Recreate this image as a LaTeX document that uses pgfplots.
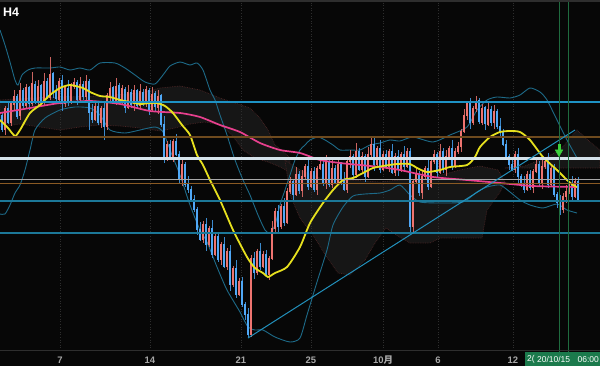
\documentclass[border=0pt]{standalone}
\usepackage{pgfplots}
\pgfplotsset{compat=1.18}
\usepackage{pgfplotstable}
\usepackage{fontspec}
\setmainfont{Liberation Sans}
\newfontfamily\cjk{Noto Sans CJK JP}
\definecolor{bgc}{HTML}{070707}
\definecolor{upb}{HTML}{EE7470}
\definecolor{upw}{HTML}{CC6460}
\definecolor{dnb}{HTML}{50A8F6}
\definecolor{dnw}{HTML}{3C8ACC}
\definecolor{band}{HTML}{1D6A88}
\definecolor{yma}{HTML}{E6E01E}
\definecolor{pma}{HTML}{E8408E}
\definecolor{hblue}{HTML}{1E92C4}
\definecolor{hbrown}{HTML}{6E4A1E}
\definecolor{hwhite}{HTML}{D4E2EA}
\definecolor{hgray}{HTML}{A8A8A8}
\definecolor{hbrown2}{HTML}{8A5A24}
\definecolor{hteal}{HTML}{1C7898}
\definecolor{cloud}{HTML}{161616}
\definecolor{cedge}{HTML}{4A2424}
\definecolor{gridc}{HTML}{2E2E2E}
\definecolor{lbl}{HTML}{A8A8A8}
\definecolor{boxg}{HTML}{1B7A4C}
\definecolor{vgreen}{HTML}{1F6B3F}
\definecolor{arrg}{HTML}{3CD23C}
\definecolor{trend}{HTML}{2290BC}

\pgfplotstableread{
x o c h l
2 116 129 112 132
5 129 108 106 135
8 108 122 101 124
11 122 104 101 126
14 104 96 90 111
17 96 116 94 119
20 116 91 83 120
23 91 106 88 108
26 106 88 84 109
29 88 104 86 110
32 104 84 72 106
35 84 100 81 104
38 100 86 80 107
41 86 102 84 105
44 102 81 73 106
47 81 97 78 99
50 97 74 57 100
53 74 92 72 98
56 92 99 85 101
59 99 81 78 103
62 81 104 75 111
65 104 88 86 107
68 88 102 80 106
71 102 86 83 104
74 86 82 78 89
77 82 99 80 105
80 99 84 77 101
83 84 96 81 100
86 96 81 75 103
89 81 112 79 130
92 112 119 104 123
95 119 106 103 121
98 106 122 102 125
101 122 108 106 128
104 108 126 101 140
107 126 96 93 130
110 96 88 82 103
113 88 101 86 104
116 101 86 78 105
119 86 102 83 104
122 102 89 85 105
125 89 107 87 113
128 107 92 85 109
131 92 104 89 108
134 104 91 85 111
137 91 106 89 109
140 106 92 84 110
143 92 104 89 106
146 104 90 86 107
149 90 109 88 115
152 109 94 87 111
155 94 107 91 111
158 107 96 90 114
161 96 124 94 127
164 124 159 116 163
167 159 144 141 161
170 144 156 140 159
173 156 141 139 162
176 141 154 134 156
179 154 179 151 183
182 179 164 158 186
185 164 184 162 187
188 184 189 176 193
191 189 199 186 201
194 199 209 195 212
197 209 229 207 235
200 229 239 222 241
203 239 224 221 243
206 224 244 218 251
209 244 228 226 247
212 228 254 220 258
215 254 236 233 256
218 236 259 232 262
221 259 244 242 265
224 244 266 237 268
227 266 251 248 270
230 251 284 245 291
233 284 268 266 287
236 268 294 260 298
239 294 281 278 296
242 281 304 277 307
245 304 314 302 320
248 314 334 308 338
251 334 258 255 337
254 258 272 252 279
257 272 251 249 275
260 251 266 243 270
263 266 254 251 268
266 254 274 250 277
269 274 258 256 280
272 258 228 221 260
275 228 211 208 232
278 211 226 205 233
281 226 206 204 229
284 206 222 198 226
287 222 191 188 224
290 191 181 177 194
293 181 194 179 200
296 194 174 167 196
299 174 190 171 194
302 190 176 170 197
305 176 166 164 179
308 166 186 158 190
311 186 171 168 188
314 171 189 167 192
317 189 168 166 195
320 168 164 157 170
323 164 182 161 186
326 182 161 155 189
329 161 184 159 187
332 184 168 160 188
335 168 182 165 184
338 182 164 160 185
341 164 179 162 185
344 179 189 172 191
347 189 161 158 193
350 161 156 150 168
353 156 174 154 177
356 174 151 143 178
359 151 169 148 171
362 169 156 152 172
365 156 176 154 182
368 176 154 147 178
371 154 144 136 158
374 144 164 138 171
377 164 148 146 167
380 148 169 140 173
383 169 154 151 171
386 154 166 150 169
389 166 151 149 172
392 151 172 144 174
395 172 156 153 176
398 156 169 150 176
401 169 154 152 172
404 154 166 146 170
407 166 151 148 168
410 151 226 148 232
413 226 181 179 232
416 181 174 167 183
419 174 192 171 196
422 192 176 170 199
425 176 168 166 179
428 168 186 160 190
431 186 161 158 188
434 161 154 150 164
437 154 172 152 178
440 172 151 144 174
443 151 169 148 173
446 169 156 150 176
449 156 148 146 159
452 148 166 140 170
455 166 151 148 168
458 151 146 142 154
461 146 131 129 152
464 131 116 109 133
467 116 104 101 120
470 104 122 98 129
473 122 108 106 125
476 108 101 96 112
479 101 122 98 124
482 122 108 104 125
485 108 124 106 130
488 124 109 102 126
491 109 122 106 126
494 122 111 105 129
497 111 126 109 129
500 126 132 118 136
503 132 144 129 146
506 144 156 140 159
509 156 164 154 170
512 164 169 157 171
515 169 154 151 173
518 154 176 148 183
521 176 184 174 187
524 184 189 176 193
527 189 174 171 191
530 174 187 170 190
533 187 171 169 193
536 171 164 157 173
539 164 182 161 186
542 182 166 160 189
545 166 161 159 169
548 161 184 153 188
551 184 168 165 186
554 168 194 164 197
557 194 202 192 208
560 202 209 195 215
563 209 196 193 213
566 196 191 185 203
569 191 184 182 194
572 184 196 176 200
575 196 181 178 198
578 181 199 177 202
}\candles

\begin{document}
\begin{tikzpicture}
\fill[bgc] (0,0) rectangle (600bp,366bp);
\begin{axis}[
  scale only axis, width=600bp, height=366bp,
  xmin=0, xmax=600, ymin=0, ymax=366, y dir=reverse,
  axis lines=none, clip=true,
]
% clouds
\addplot[fill=cloud, draw=cedge, densely dotted, line width=0.7bp] coordinates {(0,100) (30,98) (60,97) (100,96) (140,93) (160,88) (180,86) (200,90) (220,98) (235,103) (250,108) (260,118) (268,130) (275,145) (285,153) (290,158) (290,172) (278,166) (268,162) (255,158) (243,150) (232,135) (220,125) (205,122) (190,124) (175,128) (160,131) (140,128) (120,126) (100,125) (80,127) (60,130) (40,127) (20,124) (0,127)} --cycle;
\addplot[fill=cloud, draw=cedge, densely dotted, line width=0.7bp] coordinates {(285,160) (300,170) (320,178) (350,180) (380,182) (400,180) (430,178) (460,170) (480,166) (498,170) (505,182) (500,192) (487,210) (482,238) (440,238) (430,243) (410,243) (398,236) (386,228) (375,243) (365,260) (350,275) (338,273) (326,256) (313,235) (300,218) (290,195)} --cycle;
\addplot[fill=cloud, draw=cedge, densely dotted, line width=0.7bp] coordinates {(505,168) (525,166) (545,158) (560,150) (577,130) (590,142) (600,150) (600,168)} --cycle;
% grid
\pgfplotsinvokeforeach{60,150,241,311,383,438,513}{
  \draw[gridc, dotted, line width=0.6bp] (axis cs:#1,0) -- (axis cs:#1,350);
}
% bollinger bands
\addplot[band, line width=0.9bp, smooth, tension=0.4] coordinates {(0,30) (5,45) (10,62) (15,80) (18,85) (22,75) (28,70) (35,68) (50,68) (60,67) (70,70) (80,68) (90,70) (100,63) (115,63) (125,68) (135,75) (145,82) (155,84) (163,75) (170,66) (180,62) (190,65) (197,63) (203,70) (210,90) (215,100) (220,115) (227,135) (235,160) (243,180) (250,195) (258,215) (265,230) (270,233) (275,225) (280,205) (285,190) (290,175) (295,160) (300,150) (305,145) (310,140) (318,137) (325,140) (333,145) (340,150) (350,150) (360,150) (370,145) (380,143) (390,140) (400,141) (413,137) (433,142) (450,135) (467,127) (477,110) (487,100) (497,97) (510,98) (520,95) (530,88) (540,92) (547,100) (557,120) (567,140) (577,158)};
\addplot[band, line width=0.9bp, smooth, tension=0.4] coordinates {(0,214) (5,214) (10,205) (15,193) (20,185) (25,170) (30,150) (35,130) (45,118) (60,110) (75,107) (90,108) (100,115) (110,130) (125,133) (140,130) (155,127) (163,132) (172,155) (180,175) (190,205) (200,230) (207,242) (217,267) (227,290) (240,312) (248,327) (255,330) (263,330) (275,337) (290,342) (300,338) (307,315) (317,282) (327,250) (333,225) (343,207) (353,196) (365,194) (380,193) (390,190) (400,185) (410,195) (420,202) (440,203) (463,202) (477,192) (487,187) (500,185) (510,192) (520,200) (530,205) (543,208) (557,204) (567,210) (577,213)};
% candles: wicks
\addplot[draw=none, no markers, forget plot,
  restrict expr to domain={\thisrow{o}-\thisrow{c}}{0:1000},
  error bars/.cd, y dir=both, y explicit, error mark=none,
  error bar style={line width=1bp, draw=upw, solid}]
  table[x=x, y expr={(\thisrow{h}+\thisrow{l})/2}, y error expr={(\thisrow{l}-\thisrow{h})/2}] {\candles};
\addplot[draw=none, no markers, forget plot,
  restrict expr to domain={\thisrow{o}-\thisrow{c}}{-1000:-0.001},
  error bars/.cd, y dir=both, y explicit, error mark=none,
  error bar style={line width=1bp, draw=dnw, solid}]
  table[x=x, y expr={(\thisrow{h}+\thisrow{l})/2}, y error expr={(\thisrow{l}-\thisrow{h})/2}] {\candles};
% candles: bodies
\addplot[draw=none, no markers, forget plot,
  restrict expr to domain={\thisrow{o}-\thisrow{c}}{0:1000},
  error bars/.cd, y dir=both, y explicit, error mark=none,
  error bar style={line width=2.6bp, draw=upb, solid}]
  table[x=x, y expr={(\thisrow{o}+\thisrow{c})/2}, y error expr={abs(\thisrow{o}-\thisrow{c})/2+0.5}] {\candles};
\addplot[draw=none, no markers, forget plot,
  restrict expr to domain={\thisrow{o}-\thisrow{c}}{-1000:-0.001},
  error bars/.cd, y dir=both, y explicit, error mark=none,
  error bar style={line width=2.6bp, draw=dnb, solid}]
  table[x=x, y expr={(\thisrow{o}+\thisrow{c})/2}, y error expr={abs(\thisrow{o}-\thisrow{c})/2+0.5}] {\candles};
% moving averages
\addplot[pma, line width=1.7bp, smooth, tension=0.4] coordinates {(0,113) (30,108) (60,103) (90,101) (120,104) (150,111) (180,113) (200,117) (220,125) (240,132) (260,143) (280,150) (300,153) (320,160) (340,163) (360,165) (380,167) (400,170) (433,177) (467,180) (500,183) (533,186) (577,187)};
\addplot[yma, line width=1.8bp, smooth, tension=0.4] coordinates {(0,120) (8,128) (15,136) (20,130) (30,113) (40,105) (50,95) (60,88) (70,85) (83,88) (90,92) (100,96) (110,97) (120,100) (130,102) (140,104) (150,103) (157,103) (165,106) (173,113) (182,125) (190,135) (197,155) (203,165) (210,180) (220,200) (233,230) (247,257) (255,268) (263,273) (268,277) (275,273) (287,267) (300,247) (310,223) (323,203) (333,190) (343,180) (353,178) (363,173) (373,168) (383,166) (397,164) (410,164) (417,168) (427,172) (440,170) (450,167) (467,165) (475,157) (480,147) (490,137) (500,132) (510,131) (520,132) (530,140) (543,157) (557,170) (567,180) (573,185) (577,187)};
% horizontal levels
\addplot[hblue, line width=2bp] coordinates {(0,101.5) (600,101.5)};
\addplot[hbrown, line width=1.5bp] coordinates {(0,137) (600,137)};
\addplot[hwhite, line width=2.8bp] coordinates {(0,158.5) (600,158.5)};
\addplot[hgray, line width=0.9bp] coordinates {(0,179) (600,179)};
\addplot[hbrown2, line width=0.9bp] coordinates {(0,183) (600,183)};
\addplot[hteal, line width=1.4bp] coordinates {(0,201) (600,201)};
\addplot[hteal, line width=1.4bp] coordinates {(0,233) (600,233)};
% trendline
\addplot[trend, line width=1bp] coordinates {(248,338) (575,130)};
% vertical markers
\addplot[vgreen, line width=0.9bp] coordinates {(559,0) (559,352)};
\addplot[vgreen, line width=0.9bp] coordinates {(568,0) (568,352)};
% signal arrow
\addplot[arrg, line width=3bp] coordinates {(559,144) (559,150)};
\addplot[only marks, mark=triangle*, mark size=4.5bp, mark options={rotate=180, fill=arrg, draw=arrg}] coordinates {(559,152)};
% frame lines
\addplot[gridc, line width=1.5bp] coordinates {(0,1) (600,1)};
\addplot[gridc, line width=1bp] coordinates {(0,350.5) (600,350.5)};
% bottom labels
\node[text=lbl, font=\fontsize{9.5}{10}\selectfont\bfseries] at (axis cs:60,360) {7};
\node[text=lbl, font=\fontsize{9.5}{10}\selectfont\bfseries] at (axis cs:150,360) {14};
\node[text=lbl, font=\fontsize{9.5}{10}\selectfont\bfseries] at (axis cs:241,360) {21};
\node[text=lbl, font=\fontsize{9.5}{10}\selectfont\bfseries] at (axis cs:311,360) {25};
\node[text=lbl, font=\fontsize{9.5}{10}\selectfont\bfseries] at (axis cs:383,360) {10{\cjk 月}};
\node[text=lbl, font=\fontsize{9.5}{10}\selectfont\bfseries] at (axis cs:438,360) {6};
\node[text=lbl, font=\fontsize{9.5}{10}\selectfont\bfseries] at (axis cs:513,360) {12};
\fill[boxg] (axis cs:525,352) rectangle (axis cs:600,366);
\node[text=white, font=\fontsize{8.5}{9}\selectfont, anchor=west, inner sep=0pt] at (axis cs:527,359.5) {2(};
\node[text=white, font=\fontsize{8.5}{9}\selectfont, anchor=west, inner sep=0pt] at (axis cs:537,359.5) {20/10/15};
\node[text=white, font=\fontsize{8.5}{9}\selectfont, anchor=east, inner sep=0pt] at (axis cs:599,359.5) {06:00};
% title
\node[text=white, font=\fontsize{12.5}{13}\selectfont\bfseries, anchor=west, inner sep=0pt] at (axis cs:3,12) {H4};
\end{axis}
\end{tikzpicture}
\end{document}
